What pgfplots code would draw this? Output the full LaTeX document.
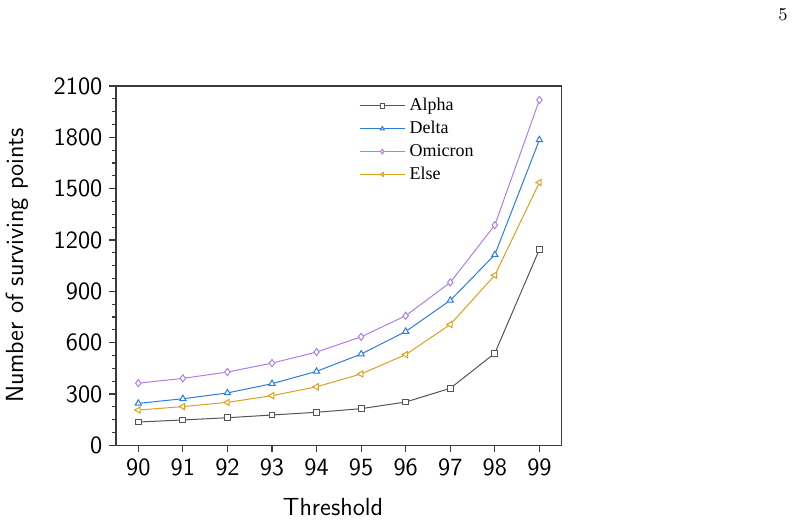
\documentclass[border=0pt]{standalone}
\usepackage{fontspec}
\usepackage{pgfplots}
\pgfplotsset{compat=1.18}
\newfontfamily\legendfont{Liberation Serif}

\definecolor{alphac}{HTML}{555555}
\definecolor{deltac}{HTML}{2A7DE1}
\definecolor{omicronc}{HTML}{B07EE6}
\definecolor{elsec}{HTML}{D9A21B}
\definecolor{axisc}{HTML}{3A3A3A}

\begin{document}
\begin{tikzpicture}
\path[use as bounding box] (-58pt,-38.35pt) rectangle (341.5pt,222.65pt);
\node[font=\fontsize{9}{10}\selectfont] at (333.5pt,215.15pt) {5};
\begin{axis}[
  scale only axis,
  width=222.85pt, height=179.65pt,
  xmin=89.5, xmax=99.5,
  ymin=0, ymax=2100,
  xtick={90,...,99},
  ytick={0,300,...,2100},
  minor y tick num=3,
  tick align=outside,
  xtick pos=bottom, ytick pos=left,
  major tick length=3.3pt, minor tick length=2pt,
  axis line style={axisc, line width=0.65pt},
  every tick/.style={axisc, line width=0.6pt},
  /pgf/number format/1000 sep={},
  /pgf/number format/assume math mode=true,
  ticklabel style={font=\sffamily\fontsize{12.4}{14}\selectfont},
  xlabel={Threshold},
  ylabel={Number of surviving points},
  every axis x label/.style={at={(rel axis cs:0,0)}, xshift=108.5pt,
    yshift=-30.85pt, anchor=center},
  every axis y label/.style={at={(rel axis cs:0,0.5)}, xshift=-49.5pt,
    rotate=90, anchor=center},
  label style={font=\sffamily\fontsize{12.4}{14}\selectfont},
  legend cell align=left,
  legend style={at={(rel axis cs:0.531,0.99)}, anchor=north west,
    draw=none, fill=none, font=\legendfont\fontsize{9}{10}\selectfont,
    row sep=-0.2pt},
  legend image code/.code={
    \draw[mark repeat=2, mark phase=2, mark size=1.15pt]
      plot coordinates {(0,0) (0.4cm,0) (0.8cm,0)};
  },
  every axis plot/.append style={line width=0.5pt, mark size=1.45pt},
]
\addplot[alphac, mark=square*, mark options={solid, fill=white}] coordinates {
  (90,136) (91,148) (92,161) (93,177) (94,193)
  (95,214) (96,253) (97,333) (98,538) (99,1145)};
\addlegendentry{Alpha}
\addplot[deltac, mark=triangle*, mark size=1.8pt,
  mark options={solid, fill=white}] coordinates {
  (90,245) (91,272) (92,306) (93,360) (94,432)
  (95,533) (96,665) (97,847) (98,1114) (99,1785)};
\addlegendentry{Delta}
\addplot[omicronc, mark=diamond*, mark size=1.8pt,
  mark options={solid, fill=white}] coordinates {
  (90,363) (91,391) (92,428) (93,480) (94,545)
  (95,634) (96,757) (97,952) (98,1287) (99,2018)};
\addlegendentry{Omicron}
\addplot[elsec, mark=triangle*, mark size=1.8pt,
  mark options={solid, fill=white, rotate=90}] coordinates {
  (90,206) (91,226) (92,251) (93,290) (94,342)
  (95,417) (96,530) (97,706) (98,994) (99,1536)};
\addlegendentry{Else}
\end{axis}
\end{tikzpicture}
\end{document}
